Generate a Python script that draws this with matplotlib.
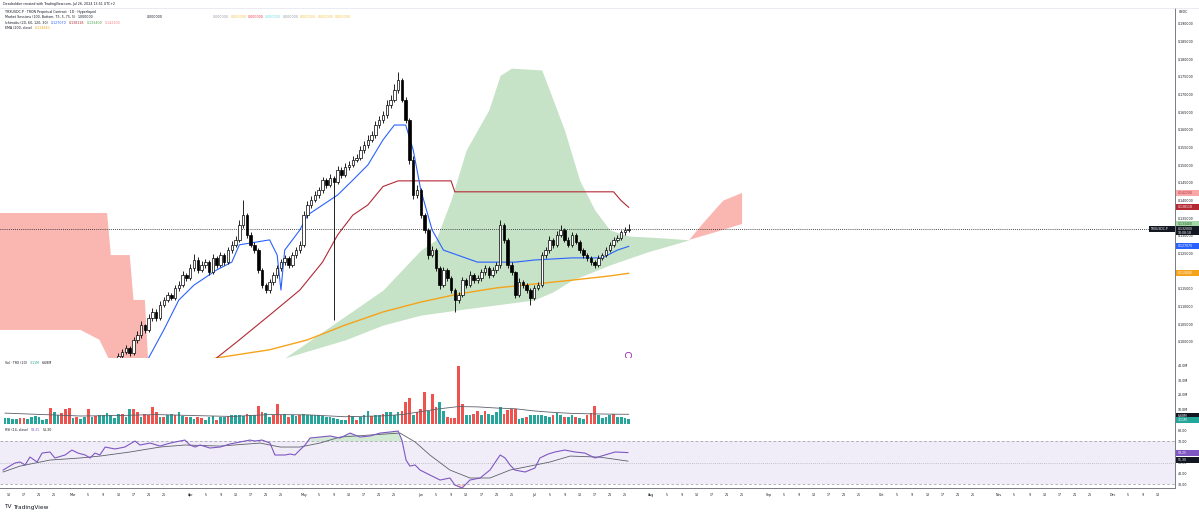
import datetime as dt
import numpy as np
import matplotlib
matplotlib.use("Agg")
import matplotlib.pyplot as plt
from matplotlib.patches import Rectangle

W, H = 1199, 519
START = dt.date(2024, 2, 12)   # day index 0
FIRST = 30                     # first candle that reaches into view

closes = [0.0960, 0.0972, 0.0983, 0.0969, 0.1006, 0.1020, 0.1048, 0.1034, 0.1068, 0.1085,
          0.1068, 0.1105, 0.1119, 0.1133, 0.1125, 0.1153, 0.1161, 0.1190, 0.1181, 0.1209,
          0.1232, 0.1204, 0.1218, 0.1226, 0.1198, 0.1238, 0.1218, 0.1246, 0.1226, 0.1260,
          0.1275, 0.1289, 0.1331, 0.1359, 0.1303, 0.1275, 0.1260, 0.1204, 0.1161, 0.1147,
          0.1170, 0.1190, 0.1209, 0.1226, 0.1238, 0.1218, 0.1246, 0.1260, 0.1275, 0.1359,
          0.1388, 0.1402, 0.1416, 0.1430, 0.1458, 0.1444, 0.1464, 0.1453, 0.1487, 0.1473,
          0.1495, 0.1501, 0.1515, 0.1521, 0.1543, 0.1557, 0.1572, 0.1586, 0.1614, 0.1628,
          0.1642, 0.1671, 0.1685, 0.1713, 0.1741, 0.1685, 0.1628, 0.1515, 0.1416, 0.1430,
          0.1359, 0.1317, 0.1246, 0.1260, 0.1209, 0.1161, 0.1204, 0.1181, 0.1147, 0.1119,
          0.1133, 0.1175, 0.1161, 0.1190, 0.1175, 0.1181, 0.1198, 0.1209, 0.1190, 0.1204,
          0.1218, 0.1331, 0.1289, 0.1218, 0.1198, 0.1133, 0.1170, 0.1161, 0.1147, 0.1125,
          0.1153, 0.1161, 0.1246, 0.1260, 0.1289, 0.1275, 0.1303, 0.1317, 0.1289, 0.1275,
          0.1303, 0.1283, 0.1260, 0.1246, 0.1238, 0.1226, 0.1218, 0.1238, 0.1246, 0.1260,
          0.1275, 0.1289, 0.1294, 0.1311, 0.1317, 0.1320]
opens = [0.0950, 0.0960, 0.0972, 0.0983, 0.0969, 0.1006, 0.1020, 0.1048, 0.1034, 0.1068,
         0.1085, 0.1068, 0.1105, 0.1119, 0.1133, 0.1125, 0.1153, 0.1161, 0.1190, 0.1181,
         0.1209, 0.1232, 0.1204, 0.1218, 0.1226, 0.1198, 0.1238, 0.1218, 0.1246, 0.1226,
         0.1260, 0.1275, 0.1289, 0.1331, 0.1359, 0.1303, 0.1275, 0.1260, 0.1204, 0.1161,
         0.1147, 0.1170, 0.1190, 0.1209, 0.1226, 0.1238, 0.1218, 0.1246, 0.1260, 0.1275,
         0.1359, 0.1388, 0.1402, 0.1416, 0.1430, 0.1458, 0.1444, 0.1464, 0.1453, 0.1487,
         0.1473, 0.1495, 0.1501, 0.1515, 0.1521, 0.1543, 0.1557, 0.1572, 0.1586, 0.1614,
         0.1628, 0.1642, 0.1671, 0.1685, 0.1713, 0.1741, 0.1685, 0.1628, 0.1515, 0.1416,
         0.1430, 0.1359, 0.1317, 0.1246, 0.1260, 0.1209, 0.1161, 0.1204, 0.1181, 0.1147,
         0.1119, 0.1133, 0.1175, 0.1161, 0.1190, 0.1175, 0.1181, 0.1198, 0.1209, 0.1190,
         0.1204, 0.1218, 0.1331, 0.1289, 0.1218, 0.1198, 0.1133, 0.1170, 0.1161, 0.1147,
         0.1125, 0.1153, 0.1161, 0.1246, 0.1260, 0.1289, 0.1275, 0.1303, 0.1317, 0.1289,
         0.1275, 0.1303, 0.1283, 0.1260, 0.1246, 0.1238, 0.1226, 0.1218, 0.1238, 0.1246,
         0.1260, 0.1275, 0.1289, 0.1294, 0.1311, 0.1317]
highs = [0.0968, 0.0980, 0.0992, 0.0990, 0.1015, 0.1030, 0.1058, 0.1052, 0.1078, 0.1095,
         0.1092, 0.1115, 0.1128, 0.1142, 0.1140, 0.1162, 0.1172, 0.1200, 0.1196, 0.1222,
         0.1250, 0.1240, 0.1228, 0.1236, 0.1232, 0.1248, 0.1244, 0.1256, 0.1252, 0.1270,
         0.1285, 0.1300, 0.1345, 0.1402, 0.1365, 0.1310, 0.1282, 0.1265, 0.1210, 0.1168,
         0.1178, 0.1198, 0.1218, 0.1235, 0.1246, 0.1244, 0.1255, 0.1268, 0.1285, 0.1370,
         0.1398, 0.1412, 0.1426, 0.1440, 0.1468, 0.1465, 0.1475, 0.1470, 0.1497, 0.1494,
         0.1506, 0.1512, 0.1526, 0.1532, 0.1555, 0.1568, 0.1585, 0.1598, 0.1626, 0.1640,
         0.1655, 0.1685, 0.1700, 0.1730, 0.1764, 0.1748, 0.1692, 0.1635, 0.1525, 0.1445,
         0.1436, 0.1365, 0.1322, 0.1272, 0.1265, 0.1214, 0.1212, 0.1210, 0.1188, 0.1152,
         0.1142, 0.1185, 0.1182, 0.1200, 0.1196, 0.1190, 0.1206, 0.1218, 0.1214, 0.1212,
         0.1226, 0.1345, 0.1338, 0.1295, 0.1225, 0.1202, 0.1180, 0.1176, 0.1166, 0.1152,
         0.1160, 0.1170, 0.1255, 0.1270, 0.1300, 0.1295, 0.1314, 0.1330, 0.1322, 0.1296,
         0.1312, 0.1308, 0.1288, 0.1266, 0.1252, 0.1244, 0.1232, 0.1245, 0.1253, 0.1268,
         0.1283, 0.1296, 0.1302, 0.1318, 0.1325, 0.1334]
lows = [0.0940, 0.0952, 0.0965, 0.0960, 0.0962, 0.0998, 0.1012, 0.1026, 0.1028, 0.1060,
        0.1060, 0.1062, 0.1098, 0.1112, 0.1118, 0.1118, 0.1145, 0.1155, 0.1172, 0.1175,
        0.1200, 0.1195, 0.1198, 0.1210, 0.1190, 0.1192, 0.1210, 0.1212, 0.1218, 0.1220,
        0.1252, 0.1268, 0.1282, 0.1322, 0.1295, 0.1268, 0.1252, 0.1195, 0.1152, 0.1138,
        0.1140, 0.1162, 0.1182, 0.1200, 0.1218, 0.1210, 0.1212, 0.1238, 0.1252, 0.1268,
        0.1350, 0.1380, 0.1395, 0.1408, 0.1422, 0.1436, 0.1438, 0.1062, 0.1446, 0.1465,
        0.1467, 0.1488, 0.1494, 0.1508, 0.1514, 0.1535, 0.1550, 0.1565, 0.1578, 0.1606,
        0.1620, 0.1635, 0.1662, 0.1678, 0.1705, 0.1678, 0.1620, 0.1505, 0.1405, 0.1408,
        0.1350, 0.1308, 0.1236, 0.1240, 0.1200, 0.1150, 0.1155, 0.1172, 0.1138, 0.1085,
        0.1110, 0.1126, 0.1152, 0.1155, 0.1168, 0.1168, 0.1174, 0.1190, 0.1182, 0.1184,
        0.1196, 0.1210, 0.1280, 0.1210, 0.1190, 0.1125, 0.1126, 0.1152, 0.1140, 0.1105,
        0.1118, 0.1146, 0.1155, 0.1238, 0.1252, 0.1266, 0.1268, 0.1296, 0.1282, 0.1268,
        0.1270, 0.1276, 0.1252, 0.1238, 0.1230, 0.1218, 0.1210, 0.1212, 0.1232, 0.1240,
        0.1254, 0.1268, 0.1282, 0.1288, 0.1304, 0.1312]

# volume (millions), one bar per day from Feb 12; 1 = up day (teal), 0 = down day (red)
volume = [4.2, 4.0, 3.6, 3.4, 3.8, 4.0, 3.2, 4.5, 5.2, 5.0,
          3.0, 3.2, 11.0, 8.0, 6.0, 7.5, 10.0, 11.0, 4.0, 5.0,
          3.5, 5.0, 10.0, 4.5, 5.5, 6.0, 6.5, 7.5, 6.5, 4.0,
          7.0, 7.0, 5.0, 10.5, 10.0, 8.0, 5.0, 7.0, 6.0, 11.5,
          8.5, 4.5, 5.0, 6.5, 7.0, 6.0, 8.0, 5.5, 5.0, 4.5,
          3.5, 5.0, 4.0, 3.0, 4.5, 5.5, 3.0, 5.0, 4.5, 5.5,
          6.0, 6.5, 6.0, 5.5, 7.0, 6.5, 6.0, 12.5, 8.0, 7.5,
          5.0, 6.0, 13.5, 6.5, 7.0, 5.0, 6.0, 5.5, 6.0, 7.0,
          6.5, 6.5, 6.0, 6.0, 5.5, 5.0, 4.5, 4.0, 3.5, 3.0,
          2.5, 6.0, 5.5, 2.5, 5.0, 6.5, 9.0, 5.5, 6.5, 6.0,
          7.0, 8.0, 8.0, 6.5, 8.5, 9.0, 15.0, 18.0, 6.0, 8.0,
          10.0, 22.0, 9.0, 21.0, 12.0, 15.0, 9.0, 4.5, 4.0, 4.0,
          40.0, 14.0, 6.0, 6.0, 7.0, 9.0, 6.0, 9.0, 7.0, 6.0,
          8.0, 11.5, 7.0, 9.5, 10.0, 10.5, 3.5, 4.0, 5.0, 6.0,
          6.0, 6.5, 6.0, 5.5, 5.0, 6.0, 7.5, 6.0, 5.0, 4.5,
          6.0, 5.0, 4.0, 3.5, 6.0, 7.5, 12.5, 6.0, 4.0, 5.0,
          6.5, 7.0, 4.5, 5.0, 4.0, 3.11]
vol_up = [1, 1, 1, 1, 0, 0, 1, 1, 1, 1,
          1, 1, 0, 1, 1, 0, 0, 0, 1, 0,
          1, 1, 0, 1, 0, 1, 1, 1, 1, 1,
          1, 0, 1, 1, 0, 0, 1, 0, 0, 0,
          0, 1, 0, 1, 1, 0, 1, 1, 0, 1,
          1, 0, 0, 1, 1, 1, 0, 1, 1, 0,
          1, 1, 1, 1, 0, 1, 1, 0, 0, 1,
          1, 0, 0, 0, 1, 0, 1, 1, 0, 1,
          1, 1, 1, 1, 1, 1, 1, 1, 1, 1,
          1, 0, 1, 0, 1, 1, 1, 0, 1, 1,
          0, 1, 1, 1, 1, 0, 0, 0, 1, 0,
          0, 0, 1, 0, 0, 1, 1, 0, 0, 0,
          0, 0, 1, 1, 0, 0, 1, 0, 1, 1,
          1, 1, 0, 0, 0, 0, 1, 1, 0, 1,
          1, 1, 1, 1, 1, 0, 1, 1, 0, 1,
          1, 0, 1, 1, 0, 0, 0, 1, 1, 1,
          1, 0, 1, 1, 1, 1]
vol_ma_day = [0, 10, 20, 30, 40, 50, 60, 70, 80, 90, 100, 105, 110, 115, 120, 125, 130, 135,
              140, 145, 150, 155, 160, 165]
vol_ma = [7.5, 6.5, 5.5, 5.8, 6.5, 5.8, 5.2, 6.5, 6.3, 5.0, 5.6, 6.5, 8.5, 10.5, 12.0, 11.8,
          11.0, 10.5, 9.0, 8.0, 7.3, 7.0, 6.8, 6.68]

# Ichimoku lines (day index, price)
conv_day = [36, 38, 42, 46, 50, 56, 60, 62, 70, 72, 73, 74, 78, 80, 88, 92, 96, 100, 103,
            106, 108, 110, 113, 116, 125, 135, 140, 150, 158, 162, 165]
conv = [0.0930, 0.0955, 0.1034, 0.1119, 0.1161, 0.1204, 0.1226, 0.1275, 0.1289, 0.1246,
        0.1147, 0.1260, 0.1317, 0.1359, 0.1416, 0.1458, 0.1501, 0.1572, 0.1614, 0.1614,
        0.1543, 0.1430, 0.1317, 0.1260, 0.1226, 0.1226, 0.1232, 0.1238, 0.1238, 0.1260,
        0.12707]
base_day = [54, 56, 62, 70, 78, 84, 88, 92, 96, 100, 104, 118, 119, 161, 163, 165]
base = [0.0930, 0.0955, 0.1006, 0.1076, 0.1147, 0.1226, 0.1303, 0.1359, 0.1388, 0.1440,
        0.1456, 0.1456, 0.1425, 0.1425, 0.1400, 0.138118]
span_a_day = [-2, 20, 25, 28, 40, 74, 100, 110, 114, 118, 122, 128, 131, 134, 142, 145, 148,
              152, 156, 160, 165, 175, 181, 188, 195]
span_a = [0.1034, 0.1034, 0.1006, 0.0940, 0.0900, 0.0955, 0.1147, 0.1260, 0.1289, 0.1402,
          0.1543, 0.1657, 0.1755, 0.1775, 0.1770, 0.1685, 0.1600, 0.1458, 0.1374, 0.1317,
          0.1300, 0.1294, 0.1289, 0.1311, 0.1334]
span_b_day = [-2, 27, 28, 33, 34, 37, 38, 40, 74, 90, 100, 110, 120, 130, 140, 145, 150,
              160, 170, 181, 185, 190, 195]
span_b = [0.1365, 0.1365, 0.1246, 0.1246, 0.1119, 0.1119, 0.0920, 0.0910, 0.0955, 0.1006,
          0.1048, 0.1076, 0.1091, 0.1105, 0.1119, 0.1142, 0.1175, 0.1218, 0.1255, 0.1289,
          0.1340, 0.1400, 0.1422]
ema_day = [54, 56, 70, 80, 90, 100, 110, 120, 130, 140, 150, 160, 165]
ema = [0.0950, 0.0955, 0.0978, 0.1006, 0.1048, 0.1085, 0.1113, 0.1136, 0.1153, 0.1164,
       0.1175, 0.1187, 0.11944]

# RSI (14) and its moving average
rsi_day = [-0.5, 2.6, 4.0, 5.3, 6.6, 8.5, 9.8, 11.9, 13.2, 15.9, 17.7, 19.3, 21.2, 22.5, 23.8,
           25.1, 26.5, 29.1, 31.7, 34.4, 35.7, 38.4, 41.0, 43.7, 46.3, 47.6, 48.9, 50.3, 51.6,
           54.2, 56.9, 59.5, 62.2, 64.8, 66.1, 68.0, 70.1, 71.4, 74.1, 75.4, 76.7, 78.0, 79.4,
           80.7, 83.3, 86.0, 88.6, 91.3, 93.9, 96.6, 99.2, 101.9, 104.0, 105.0, 106.1, 107.1,
           108.5, 109.8, 112.4, 115.1, 117.7, 119.0, 120.9, 123.0, 125.7, 128.3, 131.0, 132.3,
           133.6, 134.9, 137.6, 140.2, 141.5, 143.7, 145.5, 148.1, 150.8, 153.4, 156.1, 158.7,
           161.4, 164.8]
rsi = [43.0, 49.5, 50.5, 47.7, 55.1, 50.5, 58.8, 59.8, 54.2, 57.0, 61.6, 58.8, 57.0, 54.2, 58.8,
       57.0, 64.4, 62.6, 64.4, 70.0, 66.3, 68.1, 65.3, 68.1, 70.0, 70.9, 66.3, 64.4, 66.3,
       63.5, 64.4, 67.2, 69.1, 70.9, 70.0, 70.9, 68.1, 57.0, 57.0, 57.9, 57.0, 61.6, 66.3,
       72.8, 73.7, 74.7, 72.8, 77.4, 73.7, 74.7, 77.4, 78.4, 79.3, 70.9, 52.3, 46.7,
       47.7, 43.0, 38.4, 33.7, 35.6, 29.1, 26.3, 33.7, 35.6, 43.0, 57.0, 54.2,
       47.7, 43.0, 41.2, 44.9, 54.2, 57.9, 59.8, 61.6, 59.8, 58.8, 54.2, 57.0,
       59.8, 59.25]
rsi_ma_day = [-0.5, 4.0, 11.9, 19.8, 25.1, 33.1, 41.0, 47.6, 56.9, 67.5, 72.8, 78.0, 83.3, 88.6,
              96.6, 104.5, 108.5, 112.4, 117.7, 123.0, 128.3, 133.6, 138.9, 144.2, 149.5,
              157.4, 164.8]
rsi_ma = [41.2, 46.7, 52.3, 54.2, 56.0, 59.8, 64.4, 66.3, 65.3, 68.1, 64.4, 64.4, 68.1, 73.7,
          75.6, 77.4, 69.1, 57.0, 43.0, 35.6, 35.6, 43.0, 46.7, 50.5, 56.0, 55.0, 51.3]

assert len(opens) == len(highs) == len(lows) == len(closes)
assert len(volume) == len(vol_up)

price_ticks = [round(0.100 + 0.005 * k, 3) for k in range(19)]

fig = plt.figure(figsize=(W / 100, H / 100), dpi=100)
fig.patch.set_facecolor("white")
XL = (-5 / 3.78, 1170 / 3.78)
TXT = "#131722"
SMALL = 2.35


def pane(top, bottom):
    a = fig.add_axes([0, 1 - bottom / H, 1175 / W, (bottom - top) / H])
    a.set_xlim(*XL)
    a.set_facecolor("white")
    a.yaxis.tick_right()
    a.tick_params(axis="y", length=0, labelsize=SMALL, colors=TXT, pad=2.2)
    a.set_xticks([])
    for s in ("top", "left"):
        a.spines[s].set_visible(False)
    a.spines["right"].set_color("#787b86")
    a.spines["right"].set_linewidth(0.7)
    a.spines["bottom"].set_color("#b2b5be")
    a.spines["bottom"].set_linewidth(0.7)
    return a


ax = pane(8, 358)
axv = pane(358, 425)
axr = pane(425, 488)

# --- price pane ---
ax.set_ylim(0.09547, 0.19452)
ax.set_yticks(price_ticks)
ax.set_yticklabels([f"{t:.6f}" for t in price_ticks])

grid = np.arange(-2, 195.01, 0.05)
ga = np.interp(grid, span_a_day, span_a)
gb = np.interp(grid, span_b_day, span_b)
ax.fill_between(grid, ga, gb, where=ga >= gb, interpolate=True, color="#43a047", alpha=0.3, lw=0, zorder=1)
ax.fill_between(grid, ga, gb, where=ga < gb, interpolate=True, color="#f44336", alpha=0.38, lw=0, zorder=1)

ax.plot(ema_day, ema, color="#f5a31a", lw=1.0, zorder=2)
ax.plot(base_day, base, color="#b22833", lw=0.8, zorder=2)
ax.plot(conv_day, conv, color="#2962ff", lw=0.8, zorder=2)

for k, (o, h, l, c) in enumerate(zip(opens, highs, lows, closes)):
    x = FIRST + k
    ax.vlines(x, l, h, color="black", lw=0.6, zorder=3)
    ax.add_patch(Rectangle((x - 0.33, min(o, c)), 0.66, max(abs(c - o), 0.00025),
                           facecolor="white" if c >= o else "black", edgecolor="black",
                           lw=0.5, zorder=4))

ax.axhline(closes[-1], color=TXT, lw=0.6, ls=(0, (1, 1.5)), zorder=2)
ax.text(605, 0.1405, "TRXUSDC.P, 1D", fontsize=17, color="#d6d8de", ha="center", va="center", zorder=0)
# event marker under the last candle
ax.plot([164.8], [0.0964], marker="o", ms=4.5, mfc="white", mec="#9c27b0", mew=0.6, zorder=5)

# --- volume pane ---
axv.set_ylim(-0.7, 45.5)
vol_ticks = [10, 20, 30, 40]
axv.set_yticks(vol_ticks)
axv.set_yticklabels([f"{t}.0M" for t in vol_ticks])
axv.bar(range(len(volume)), volume, width=0.72,
        color=["#26a69a" if u else "#ef5350" for u in vol_up], lw=0)
axv.plot(vol_ma_day, vol_ma, color="#5d606b", lw=0.6)

# --- RSI pane ---
axr.set_ylim(26.3, 84.9)
rsi_ticks = [30, 40, 50, 60, 70, 80]
axr.set_yticks(rsi_ticks)
axr.set_yticklabels([f"{t:.2f}" for t in rsi_ticks])
axr.axhspan(30, 70, color="#7e57c2", alpha=0.1, lw=0)
for lvl, st in ((70, (0, (4, 3))), (50, (0, (1, 2))), (30, (0, (4, 3)))):
    axr.axhline(lvl, color="#9598a1", lw=0.5, ls=st)
rg = np.arange(-0.5, 164.81, 0.05)
rv = np.interp(rg, rsi_day, rsi)
axr.fill_between(rg, rv, 70, where=rv > 70, interpolate=True, color="#4caf50", alpha=0.25, lw=0)
axr.fill_between(rg, rv, 30, where=rv < 30, interpolate=True, color="#f44336", alpha=0.25, lw=0)
axr.plot(rsi_ma_day, rsi_ma, color="#5d606b", lw=0.6)
axr.plot(rsi_day, rsi, color="#7e57c2", lw=0.8)

# date axis under the RSI pane
ticks, labels = [], []
d = dt.date(2024, 2, 1)
while d <= dt.date(2024, 12, 31):
    idx = (d - START).days
    if XL[0] < idx < XL[1] - 2:
        if d.day == 1:
            ticks.append(idx); labels.append(d.strftime("%b"))
        elif d.day in (5, 9, 13, 17, 21, 25):
            ticks.append(idx); labels.append(str(d.day))
    d += dt.timedelta(days=1)
axr.set_xticks(ticks)
axr.set_xticklabels(labels)
axr.tick_params(axis="x", length=0, labelsize=SMALL, colors=TXT, pad=3.5)
axr.spines["bottom"].set_color("#787b86")


# --- right scale tags (fixed-width boxes on the price scale) ---
def tag(a, val, text, bg, fg="white", h=6.0, shift=0.0, x0=1176, x1=1199):
    ypx = a.transData.transform((0, val))[1] + shift
    fig.add_artist(Rectangle((x0 / W, (ypx - h / 2) / H), (x1 - x0) / W, h / H,
                             transform=fig.transFigure, fc=bg, ec="none", zorder=10))
    fig.text((x0 + 1.5) / W, ypx / H, text, fontsize=2.25, color=fg, va="center", ha="left",
             zorder=11, linespacing=1.0)


tag(ax, span_b[-1], f"{span_b[-1]:.6f}", "#f7a8a8", "#b22833")
tag(ax, base[-1], f"{base[-1]:.6f}", "#b22833")
tag(ax, span_a[-1], f"{span_a[-1]:.6f}", "#a5d6a7", "#1b5e20")
tag(ax, closes[-1], f"{closes[-1]:.6f}\n10:08:18", TXT, h=9.5, shift=-1.8)
tag(ax, closes[-1], "TRXUSDC.P", TXT, h=6, x0=1149, x1=1175)
tag(ax, conv[-1], f"{conv[-1]:.6f}", "#2962ff")
tag(ax, ema[-1], f"{ema[-1]:.6f}", "#f5a31a")
tag(axv, vol_ma[-1], f"{vol_ma[-1]:.2f}M", TXT, shift=-1.5)
tag(axv, volume[-1], f"{volume[-1]:.2f}M", "#26a69a", shift=-0.5)
tag(axr, rsi[-1], f"{rsi[-1]:.2f}", "#7e57c2")
tag(axr, rsi_ma[-1], f"{rsi_ma[-1]:.2f}", TXT, shift=1.5)
fig.text(1179 / W, 1 - 12 / H, "USDC", fontsize=SMALL, color=TXT, va="center")

# --- header texts ---
renderer = fig.canvas.get_renderer()


def chain(x, y, parts, size=SMALL, gap=2.5):
    for s, col in parts:
        t = fig.text(x / W, 1 - y / H, s, color=col, fontsize=size, va="center", ha="left")
        x = t.get_window_extent(renderer).x1 + gap


fig.add_artist(plt.Line2D([0, 1], [1 - 8 / H, 1 - 8 / H], color="#e0e3eb", lw=0.5))
chain(3, 4.5, [("Deadsoldier created with TradingView.com, Jul 26, 2024 13:51 UTC+2", TXT)])
chain(5, 12, [("TRXUSDC.P · TRON Perpetual Contract · 1D · Hyperliquid", TXT)])
chain(5, 17.5, [("Market Sessions (100, Bottom, 75, 5, 75, 5)", TXT), ("1.000000", TXT)])
chain(147, 17.5, [("0.000000", TXT)])
chain(213, 17.5, [("0.000000", c) for c in ("#9598a1", "#f5c242", "#f23645", "#66d9e8",
                                           "#9598a1", "#f5c242", "#f5c242", "#f5c242")], gap=1.5)
chain(5, 23, [("Ichimoku (20, 60, 120, 30)", TXT), (f"{conv[-1]:.6f}", "#2962ff"),
              (f"{base[-1]:.6f}", "#b22833"), (f"{span_a[-1]:.6f}", "#43a047"),
              (f"{span_b[-1]:.6f}", "#f77c80")])
chain(5, 28, [("EMA (200, close)", TXT), (f"{ema[-1]:.6f}", "#f5a31a")])
chain(5, 363, [("Vol · TRX (20)", TXT), (f"{volume[-1]:.2f}M", "#26a69a"),
               (f"{vol_ma[-1]:.2f}M", TXT)])
chain(5, 430, [("RSI (14, close)", TXT), (f"{rsi[-1]:.2f}", "#7e57c2"),
               (f"{rsi_ma[-1]:.2f}", TXT)])
chain(4, 507, [("TV", TXT), ("TradingView", TXT)], size=4.2, gap=2)

fig.savefig("out.png", dpi=100, facecolor="white")
